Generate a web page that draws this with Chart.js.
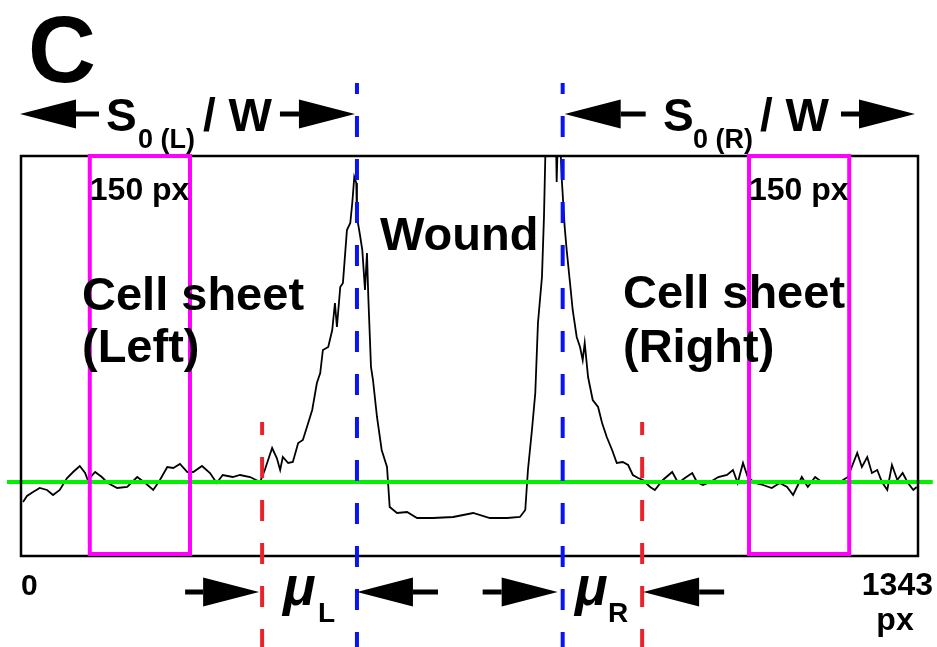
<!DOCTYPE html>
<html>
<head>
<meta charset="utf-8">
<script src="https://cdn.jsdelivr.net/npm/chart.js@4"></script>
<style>
  body { margin: 0; background: #fff; }
  #profile { display: block; }
</style>
</head>
<body>
<canvas id="profile" width="937" height="647"></canvas>
<script>
// line profile across the wound, position in px (0..1343) and intensity
const profileX = [3, 9, 18, 28, 39, 48, 58, 69, 78, 88, 96, 100, 111, 121, 130, 144, 159, 174, 186, 198,
  208, 219, 228, 238, 249, 258, 271, 283, 293, 302, 317, 328, 343, 358, 365, 376, 383, 388, 392, 400,
  407, 415, 422, 430, 436, 443, 448, 452, 460, 466, 470, 473, 478, 482, 488, 493, 496, 499, 502, 503,
  508, 511, 515, 518, 520, 524, 527, 533, 540, 548, 552, 563, 578, 593, 617, 647, 677, 702, 728, 747,
  755, 759, 765, 770, 774, 780, 783, 786, 792, 800, 802, 805, 810, 814, 817, 822, 826, 832, 837, 841,
  844, 849, 856, 864, 870, 877, 885, 892, 901, 909, 916, 924, 931, 942, 949, 961, 975, 984, 994, 1005,
  1012, 1021, 1032, 1044, 1057, 1066, 1073, 1081, 1088, 1099, 1111, 1124, 1136, 1147, 1156, 1169, 1178, 1189, 1201, 1214,
  1226, 1238, 1252, 1259, 1267, 1274, 1282, 1289, 1297, 1304, 1312, 1320, 1328, 1336, 1341];
const intensity = [27, 30, 32, 34, 33, 30.5, 33, 39, 42, 45, 41.5, 38, 42, 39.5, 36.5, 34, 34.5, 39.5, 36.5, 33,
  38, 44.5, 44, 46, 42, 42, 45, 41.5, 36.5, 40.5, 39.5, 40.5, 39.5, 37, 43, 54, 49, 43, 49.5, 46.5,
  47, 56.5, 58, 66.5, 73, 86.5, 91.5, 103, 104.5, 113, 126.5, 114.5, 134.5, 136.5, 163, 166.5, 176.5, 189.5, 186.5, 169.5,
  159.5, 153, 133, 151.5, 129.5, 94.5, 88, 69.5, 53, 44.5, 24.5, 21.5, 22, 19, 19, 19.5, 21.5, 19, 19, 19.5,
  23, 43, 63, 81.5, 116.5, 139.5, 169.5, 215, 240, 230, 187, 225, 186.5, 164.5, 153, 136.5, 123, 109.5, 104.5, 98,
  106.5, 89.5, 78, 74.5, 66.5, 59.5, 53, 46.5, 47, 45.5, 40.5, 39, 38, 34.5, 33, 38, 42, 36.5, 39, 41.5,
  37, 35.5, 37, 39.5, 40.5, 43, 36.5, 46.5, 39.5, 36.5, 35.5, 34, 36.5, 34.5, 30.5, 39.5, 34.5, 39.5, 36.5, 37,
  37, 39.5, 51.5, 44.5, 49.5, 41.5, 43, 37, 33, 45.5, 38, 41.5, 36.5, 33, 34.5];

const threshold = 37;                 // green line
const thresholdSpan = [-21, 1365];
const sheetLeft = [103, 253];         // 150 px windows
const sheetRight = [1090, 1240];
const woundEdges = [503, 811];        // blue dashed
const frontEdges = [361, 930];        // red dashed
const xEnds = ['0', '1343'];

function arrow(ctx, tipX, y, dir, shaft) {
  const headLen = 56, half = 14.5;
  const baseX = tipX - dir * headLen;
  ctx.beginPath();
  ctx.moveTo(tipX, y);
  ctx.lineTo(baseX, y - half);
  ctx.lineTo(baseX, y + half);
  ctx.closePath();
  ctx.fill();
  ctx.fillRect(Math.min(baseX, baseX - dir * shaft), y - 2.5, shaft, 5);
}

function vDash(ctx, x, y0, y1, color, offset) {
  ctx.save();
  ctx.strokeStyle = color;
  ctx.lineWidth = 4;
  ctx.setLineDash([21, 22]);
  ctx.lineDashOffset = offset;
  ctx.beginPath();
  ctx.moveTo(x, y0);
  ctx.lineTo(x, y1);
  ctx.stroke();
  ctx.restore();
}

const overlay = {
  id: 'overlay',
  afterDatasetsDraw(chart) {
    const ctx = chart.ctx;
    const a = chart.chartArea;
    const xs = chart.scales.x;
    ctx.save();

    // frame
    ctx.strokeStyle = '#000';
    ctx.lineWidth = 2.5;
    ctx.strokeRect(a.left, a.top, a.right - a.left, a.bottom - a.top);

    // 150 px windows
    ctx.strokeStyle = '#ff00ff';
    ctx.lineWidth = 4;
    [sheetLeft, sheetRight].forEach(w => {
      const l = xs.getPixelForValue(w[0]), r = xs.getPixelForValue(w[1]);
      ctx.strokeRect(l, a.top, r - l, a.bottom - a.top - 2);
    });

    // dashed markers
    const h = chart.height;
    woundEdges.forEach(v => vDash(ctx, xs.getPixelForValue(v), 83, h, '#0a14f0', 10));
    frontEdges.forEach(v => vDash(ctx, xs.getPixelForValue(v), 422, h, '#e8232b', 8));

    // text
    ctx.fillStyle = '#000';
    ctx.textBaseline = 'alphabetic';
    const F = 'Liberation Sans, Arial, sans-serif';
    ctx.font = 'bold 94px ' + F;
    ctx.fillText('C', 28, 82);

    ctx.font = 'bold 46px ' + F;
    ctx.fillText('S', 106, 131);
    ctx.fillText('/ W', 203, 131);
    ctx.fillText('S', 663, 131);
    ctx.fillText('/ W', 760, 131);
    ctx.font = 'bold 27px ' + F;
    ctx.fillText('0 (L)', 138, 148);
    ctx.fillText('0 (R)', 693, 148);

    const bL = xs.getPixelForValue(woundEdges[0]), bR = xs.getPixelForValue(woundEdges[1]);
    const rL = xs.getPixelForValue(frontEdges[0]), rR = xs.getPixelForValue(frontEdges[1]);
    arrow(ctx, a.left - 1, 114, -1, 23);
    arrow(ctx, bL - 2, 114, 1, 19);
    arrow(ctx, bR + 2, 114, -1, 25);
    arrow(ctx, a.right - 3, 114, 1, 18);

    ctx.font = 'bold 32px ' + F;
    ctx.fillText('150 px', xs.getPixelForValue(sheetLeft[0]), 200);
    ctx.fillText('150 px', xs.getPixelForValue(sheetRight[0]), 200);

    ctx.font = 'bold 47px ' + F;
    ctx.fillText('Wound', 380, 250);
    ctx.fillText('Cell sheet', 82, 310);
    ctx.fillText('(Left)', 82, 362);
    ctx.fillText('Cell sheet', 623, 308);
    ctx.fillText('(Right)', 623, 362);

    ctx.font = 'bold 30px ' + F;
    ctx.fillText(xEnds[0], xs.getPixelForValue(0), 595);
    ctx.font = 'bold 32px ' + F;
    ctx.textAlign = 'right';
    ctx.fillText(xEnds[1], 933, 595);
    ctx.textAlign = 'center';
    ctx.fillText('px', 895, 630);
    ctx.textAlign = 'left';

    arrow(ctx, rL - 3, 592, 1, 18);
    arrow(ctx, bL, 592, -1, 25);
    arrow(ctx, bR - 5, 592, 1, 19);
    arrow(ctx, rR + 1, 592, -1, 25);

    ctx.font = 'italic bold 54px ' + F;
    ctx.fillText('\u03bc', 283, 605);
    ctx.fillText('\u03bc', 575, 605);
    ctx.font = 'bold 28px ' + F;
    ctx.fillText('L', 318, 622);
    ctx.fillText('R', 608, 622);

    ctx.restore();
  }
};

new Chart(document.getElementById('profile').getContext('2d'), {
  type: 'line',
  data: {
    datasets: [{
      data: profileX.map((x, i) => ({ x: x, y: intensity[i] })),
      borderColor: '#000',
      borderWidth: 1.8,
      pointRadius: 0,
      tension: 0,
      order: 2
    }, {
      data: thresholdSpan.map(x => ({ x: x, y: threshold })),
      borderColor: '#00f000',
      borderWidth: 4,
      pointRadius: 0,
      clip: false,
      order: 1
    }]
  },
  options: {
    responsive: false,
    animation: false,
    layout: { padding: { left: 21, top: 156, right: 19, bottom: 91 } },
    plugins: { legend: { display: false }, tooltip: { enabled: false } },
    scales: {
      x: { type: 'linear', min: 0, max: 1343, display: false },
      y: { min: 0, max: 200, display: false }
    }
  },
  plugins: [overlay]
});
</script>
</body>
</html>
